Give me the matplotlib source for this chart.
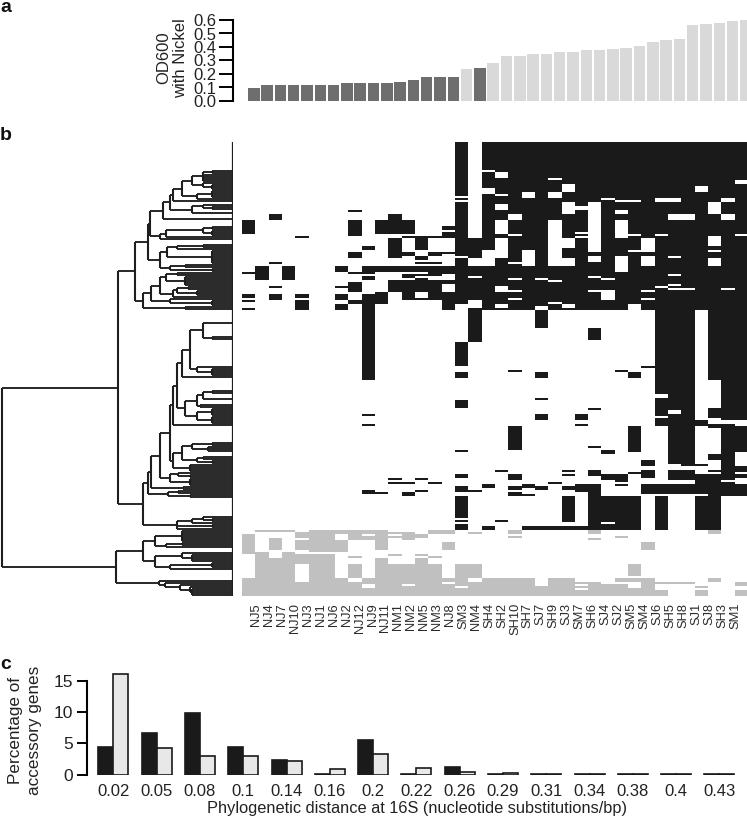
import numpy as np
import matplotlib
matplotlib.use("Agg")
import matplotlib.pyplot as plt
from matplotlib.colors import ListedColormap

plt.rcParams["font.family"] = ["Liberation Sans", "DejaVu Sans"]

W, H = 747, 821
TEXT = "#222222"

# ---------------------------------------------------------------------------
# Panel a: growth with nickel
# ---------------------------------------------------------------------------
OD600 = [0.095, 0.115, 0.12, 0.12, 0.12, 0.12, 0.122, 0.13, 0.13, 0.133, 0.133,
         0.14, 0.155, 0.175, 0.175, 0.18, 0.235, 0.245, 0.28, 0.33, 0.33, 0.345,
         0.35, 0.36, 0.365, 0.375, 0.38, 0.385, 0.395, 0.405, 0.435, 0.455,
         0.46, 0.56, 0.57, 0.58, 0.59, 0.61]
OD_DARK = list(range(16)) + [17]
OD_TICKS = [0.0, 0.1, 0.2, 0.3, 0.4, 0.5, 0.6]

# ---------------------------------------------------------------------------
# Panel b: presence / absence blocks  (col_from, col_to, row_from, row_to)
# ---------------------------------------------------------------------------
STRAINS = ["NJ5", "NJ4", "NJ7", "NJ10", "NJ3", "NJ1", "NJ6", "NJ2", "NJ12", "NJ9",
           "NJ11", "NM1", "NM2", "NM5", "NM3", "NJ8", "SM3", "NM4", "SH4", "SH2",
           "SH10", "SH7", "SJ7", "SH9", "SJ3", "SM7", "SH6", "SJ4", "SJ2", "SM5",
           "SM4", "SJ6", "SH5", "SH8", "SJ1", "SJ8", "SH3", "SM1"]
N_ROWS = 227

BLACK_BLOCKS = [
    (16,17,0,81), (18,38,0,84), (17,18,48,79), (17,18,83,100), (31,34,84,139),
    (32,34,139,161), (31,32,139,142), (34,35,139,142), (35,36,84,119), (36,38,84,139),
    (35,36,133,138), (36,38,142,155), (36,37,155,169), (35,36,156,159), (35,37,141,143),
    (37,38,162,165), (37,38,166,168), (35,36,164,165), (35,36,167,169), (33,35,161,162),
    (32,34,164,169), (34,36,166,175), (35,37,170,177), (30,38,171,176), (37,38,175,177),
    (30,31,159,162), (30,31,164,168), (29,30,165,166), (29,30,142,155), (28,29,114,115),
    (29,30,115,118), (30,31,112,113), (26,27,93,99), (26,27,164,167), (27,29,166,169),
    (28,29,169,170), (28,29,171,172), (25,27,171,175), (26,27,172,194), (27,30,177,194),
    (24,25,172,174), (24,25,164,165), (24,25,166,167), (23,24,170,171), (22,23,172,174),
    (21,22,171,173), (20,21,172,174), (20,21,166,169), (20,21,175,177), (21,22,176,177),
    (19,20,164,165), (18,19,171,173), (17,18,174,175), (16,17,172,175), (16,17,166,168),
    (16,17,154,155), (16,17,100,112), (16,17,115,118), (16,17,129,133), (16,17,177,188),
    (16,17,189,190), (16,17,191,192), (16,17,192,194), (20,21,142,154), (20,21,114,115),
    (22,23,84,93), (22,23,115,118), (22,23,128,129), (22,23,136,139), (25,26,136,139),
    (25,26,141,142), (26,27,133,134), (26,27,152,153), (27,28,154,156), (24,25,177,190),
    (31,32,177,194), (34,36,177,194), (18,19,192,194), (19,20,189,190), (21,26,192,194),
    (9,10,76,119), (9,10,136,137), (9,10,141,142), (9,10,174,176), (10,11,175,176),
    (11,12,168,169), (11,13,170,171), (13,14,168,169), (14,15,170,171), (12,13,175,177),
    (13,14,174,175), (0,1,39,46), (2,3,36,39), (4,5,47,48), (8,9,34,35), (8,9,39,47),
    (9,10,52,54), (8,9,55,58), (10,13,39,46), (11,12,36,46), (15,16,42,44), (15,16,45,47),
    (12,16,47,48), (11,12,48,58), (12,13,55,57), (13,14,48,54), (13,14,57,59), (14,15,55,57),
    (15,16,55,56), (13,15,60,61), (7,8,62,65), (8,9,65,66), (9,16,62,65), (9,10,65,66),
    (9,10,67,69), (0,1,65,66), (1,2,62,69), (2,3,60,61), (3,4,62,69), (2,3,72,73),
    (0,1,76,78), (0,1,79,80), (0,1,83,84), (2,3,76,79), (4,5,76,78), (4,5,79,84),
    (7,8,72,73), (7,8,76,79), (7,8,81,84), (8,9,70,75), (8,9,79,81), (10,11,75,81),
    (11,16,69,79), (15,16,79,84), (14,16,65,67), (12,14,66,69),
]

WHITE_BLOCKS = [
    (16,17,27,28), (16,17,29,30), (16,17,57,58), (18,19,14,15), (19,20,15,18), (23,24,18,19),
    (37,38,19,21), (34,35,22,25), (24,25,21,25), (23,24,25,28), (21,22,25,28), (18,19,23,26),
    (19,20,26,27), (27,28,28,29), (28,30,29,30), (31,33,28,30), (36,37,28,30), (35,36,30,36),
    (36,37,36,39), (32,34,36,39), (19,20,31,34), (24,25,30,36), (25,26,32,34), (26,27,30,55),
    (28,29,34,36), (28,29,39,48), (29,30,46,47), (31,32,46,47), (37,38,46,47), (20,21,36,39),
    (20,21,46,47), (19,20,39,46), (19,20,48,58), (18,19,54,62), (17,18,58,62), (20,21,60,61),
    (21,22,54,62), (23,24,39,62), (24,25,48,53), (24,25,58,62), (25,26,45,46), (25,26,47,48),
    (26,27,57,60), (28,29,57,65), (30,31,48,55), (29,30,54,55), (30,31,57,62), (32,33,57,58),
    (35,36,47,52), (35,36,54,55), (35,36,58,62), (17,18,67,68), (20,21,68,69), (22,23,68,69),
    (23,24,69,70), (26,27,67,68), (27,28,68,69), (32,33,66,67), (32,33,71,72), (31,32,72,73),
    (32,34,73,74), (36,37,73,74), (19,20,72,75), (20,21,74,75), (26,27,74,75), (27,28,74,79),
    (30,31,74,75), (30,31,78,79), (20,21,78,79), (23,24,80,81), (24,25,81,83), (19,20,81,83),
    (17,18,80,83), (22,23,82,84), (29,30,81,84), (32,33,134,136), (31,32,126,128), (31,32,137,138),
    (27,28,190,191), (11,12,75,79), (13,14,75,78), (15,16,66,69), (15,16,71,75), (12,13,68,69),
    (13,14,67,68), (16,17,81,84),
]

GRAY_BLOCKS = [
    (1,4,194,195), (4,5,195,198), (4,5,199,204), (5,7,194,205), (7,8,194,196), (7,8,199,205),
    (8,9,194,199), (9,10,194,196), (9,10,197,199), (10,11,194,204), (11,12,195,196), (11,12,197,198),
    (12,13,195,199), (13,14,196,198), (14,16,194,196), (15,16,200,204), (0,1,196,206), (1,2,205,208),
    (2,3,198,204), (3,4,205,227), (4,5,206,211), (4,5,220,227), (5,7,206,227), (7,8,218,227),
    (8,9,207,208), (8,9,211,218), (8,9,220,227), (9,10,218,221), (9,10,223,227), (10,11,208,227),
    (1,3,208,227), (0,1,218,227), (11,12,206,207), (11,12,211,227), (12,13,211,221), (12,13,222,227),
    (13,14,206,207), (13,14,208,227), (14,15,207,208), (14,15,211,227), (15,16,218,220), (15,16,221,227),
    (16,17,211,222), (16,17,223,227), (17,18,211,218), (17,18,220,227), (18,22,218,227), (22,23,222,227),
    (23,25,218,227), (25,26,220,221), (25,26,222,223), (25,26,224,227), (26,27,220,227), (27,28,221,227),
    (28,29,218,220), (28,29,221,227), (29,30,211,217), (29,30,218,220), (29,30,223,227), (30,31,218,227),
    (31,32,220,221), (31,32,224,227), (32,34,220,221), (34,35,222,223), (34,35,224,227), (35,36,218,220),
    (37,38,220,222), (37,38,224,227), (26,27,194,196), (26,27,198,199), (28,29,197,198), (30,31,200,204),
    (17,18,195,196), (20,21,194,196), (20,21,197,198), (35,36,194,196),
]

# ---------------------------------------------------------------------------
# Dendrogram: node = (height, child, child, ...), int child = n identical leaves
# ---------------------------------------------------------------------------
def comb(h, n):
    return (h,) + (1,) * n

R7 = (30, (21, 15, 1), 1, 1, 1, 1)
R8 = (30, 1, comb(21, 3))
R6 = (36, comb(21, 4), 1)
R2 = (60, (51, (41, R7, R8), R6), 1)
R3 = (41, (30, 2, comb(21, 2)), 2)
CLADE_R = (70, (63, R2, R3), 3)
CLADE_S = (73, (67, (30, (21, 4, 1), comb(21, 3)), 1), 1)
T1 = (66, (56, (30, 3, 1), 1), comb(21, 7))
T2 = (63, (48, 1, 1), comb(21, 2))
CLADE_P = (85, (83, CLADE_R, CLADE_S), (73, T1, T2))
L_TOP = (73, (67, (56, 1, 1), comb(48, 5)), (60, (56, (45, 1, 1), comb(36, 3)), 1))
CLADE_L = (90, (82, L_TOP, (63, 1, comb(21, 3))), (48, 1, 1))
CLADE_U = (98, CLADE_P, CLADE_L)

M1 = (43, (30, 7, (21, 7, 1)), (36, 14, comb(21, 4)))
M2 = (51, M1, 1)
M3 = (36, (30, (21, 7, 1), 3), (33, 3, 1))
M4 = (36, comb(21, 4), comb(21, 4))
M5 = (60, (56, M2, (48, M3, M4)), 1)
M6 = (51, (41, (21, 9, 1), comb(25, 3)), (36, (30, 3, 1), comb(21, 2)))
M7 = (60, M6, comb(43, 4))
M8 = (63, (55, comb(43, 1), comb(43, 2)), comb(43, 4))
M9 = (73, (63, M5, M7), M8)
M10 = (85, (82, M9, comb(50, 2)), (65, (55, 1, 1), comb(43, 2)))
M11 = (56, (41, (30, (21, 10), comb(21, 2)), 1), comb(21, 2), 1)
CLADE_V = (90, M10, M11)

B1 = (78, comb(51, 6), (67, comb(51, 2), 1))
B2 = (78, (51, 3, comb(41, 4)), (63, comb(21, 3), 1))
B3 = (74, 6, (68, 1, (53, 1, (43, 1, comb(41, 4)))))
TREE = (231, (115, CLADE_U, CLADE_V), (117, (90, B1, B2), B3))

# ---------------------------------------------------------------------------
# Panel c: accessory genes vs distance
# ---------------------------------------------------------------------------
DISTANCES = ["0.02", "0.05", "0.08", "0.1", "0.14", "0.16", "0.2", "0.22", "0.26",
             "0.29", "0.31", "0.34", "0.38", "0.4", "0.43"]
GENES_DARK = [4.4, 6.6, 9.8, 4.4, 2.3, 0.1, 5.5, 0.15, 1.2, 0.1, 0.1, 0.1, 0.1, 0.1, 0.1]
GENES_LIGHT = [16, 4.2, 3.0, 3.0, 2.1, 0.8, 3.2, 1.0, 0.4, 0.3, 0.1, 0.1, 0.1, 0.1, 0.1]
GENE_TICKS = [0, 5, 10, 15]


def px_axes(fig, left, top, right, bottom):
    return fig.add_axes([left / W, 1 - bottom / H, (right - left) / W, (bottom - top) / H])


fig = plt.figure(figsize=(W / 100, H / 100), dpi=100)

# ---------------------------------------------------------------------------
# a
# ---------------------------------------------------------------------------
COL_W = 13.3
ax_a = px_axes(fig, 233, 20, 747, 101)
colors = ["#6e6e6e" if i in OD_DARK else "#d9d9d9" for i in range(len(OD600))]
ax_a.bar(range(len(OD600)), OD600, width=0.87, color=colors)
ax_a.set_xlim(-(248 + 5.8 - 233) / COL_W, (747 - 248 - 5.8) / COL_W)
ax_a.set_ylim(0, 0.6)
ax_a.set_xticks([])
ax_a.set_yticks(OD_TICKS)
ax_a.set_yticklabels([f"{v:.1f}" for v in OD_TICKS], fontsize=12, color=TEXT)
ax_a.tick_params(axis="y", length=10, width=1.4, pad=2)
for s in ["top", "right", "bottom"]:
    ax_a.spines[s].set_visible(False)
ax_a.spines["left"].set_linewidth(1.5)
ax_a.patch.set_alpha(0)
fig.text(172 / W, 1 - 58 / H, "OD600\nwith Nickel", rotation=90, fontsize=12, color=TEXT,
         ha="center", va="center", linespacing=1.12)

# ---------------------------------------------------------------------------
# b heatmap
# ---------------------------------------------------------------------------
matrix = np.zeros((N_ROWS, len(STRAINS)), dtype=int)
for c0, c1, r0, r1 in BLACK_BLOCKS:
    matrix[r0:r1, c0:c1] = 1
for c0, c1, r0, r1 in WHITE_BLOCKS:
    matrix[r0:r1, c0:c1] = 0
for c0, c1, r0, r1 in GRAY_BLOCKS:
    matrix[r0:r1, c0:c1] = 2

ax_b = px_axes(fig, 241.7, 142, 747, 596)
ax_b.imshow(matrix, cmap=ListedColormap(["#ffffff", "#1a1a1a", "#c0c0c0"]), vmin=0, vmax=2,
            aspect="auto", interpolation="nearest")
# labels run a little tighter than the columns
ax_b.set_xticks([(256 - 241.7) / COL_W - 0.5 + i * 12.95 / COL_W for i in range(len(STRAINS))])
ax_b.set_xticklabels(STRAINS, rotation=90, fontsize=9.3, color="#2a2a2a")
ax_b.set_yticks([])
ax_b.tick_params(axis="x", length=0, pad=5)
for sp in ax_b.spines.values():
    sp.set_visible(False)

# ---------------------------------------------------------------------------
# b dendrogram
# ---------------------------------------------------------------------------
ax_d = px_axes(fig, 0, 142, 233, 596)
h_segs = []
v_segs = []
next_row = 0


def layout(node):
    global next_row
    if isinstance(node, int):
        y = next_row + node - 0.5
        next_row += node
        return 0, y
    h = node[0]
    kids = [layout(k) for k in node[1:]]
    ys = [k[1] for k in kids]
    for kh, ky in kids:
        h_segs.append((ky, h, kh))
    v_segs.append((h, min(ys), max(ys)))
    return h, (min(ys) + max(ys)) / 2


layout(TREE)
ax_d.hlines([s[0] for s in h_segs], [s[1] for s in h_segs], [s[2] for s in h_segs],
            color="#1e1e1e", lw=1.35)
ax_d.vlines([s[0] for s in v_segs], [s[1] for s in v_segs], [s[2] for s in v_segs],
            color="#1e1e1e", lw=1.5)
ax_d.vlines(0, 0, next_row, color="#1e1e1e", lw=1.6)
ax_d.set_xlim(233, 0)
ax_d.set_ylim(N_ROWS, 0)
ax_d.axis("off")

# ---------------------------------------------------------------------------
# c
# ---------------------------------------------------------------------------
PITCH = 43.3
ax_c = px_axes(fig, 87, 670, 747, 774.5)
x = np.arange(len(DISTANCES))
bw = 15 / PITCH
ax_c.bar(x - bw / 2, GENES_DARK, width=bw, color="#1a1a1a", edgecolor="#1a1a1a", lw=1.2)
ax_c.bar(x + bw / 2, GENES_LIGHT, width=bw, color="#e8e8e8", edgecolor="#1a1a1a", lw=1.2)
ax_c.set_xlim(-(113.3 - 87) / PITCH, (747 - 113.3) / PITCH)
ax_c.set_ylim(0, 104.5 / 94 * 15)
ax_c.set_xticks(x)
ax_c.set_xticklabels(DISTANCES, fontsize=12, color=TEXT)
ax_c.set_yticks(GENE_TICKS)
ax_c.set_yticklabels(GENE_TICKS, fontsize=12.5, color=TEXT)
ax_c.tick_params(axis="x", length=0, pad=7)
ax_c.tick_params(axis="y", length=7, width=1.4, pad=3)
for s in ["top", "right", "bottom"]:
    ax_c.spines[s].set_visible(False)
ax_c.spines["left"].set_bounds(0, 15)
ax_c.spines["left"].set_linewidth(1.5)
ax_c.patch.set_alpha(0)
fig.text(417 / W, 1 - 808 / H, "Phylogenetic distance at 16S (nucleotide substitutions/bp)",
         fontsize=11.8, color=TEXT, ha="center", va="center")
fig.text(25 / W, 1 - 730 / H, "Percentage of\naccessory genes", rotation=90, fontsize=12.3,
         color=TEXT, ha="center", va="center", linespacing=1.25)

# Panel letters
for letter, py in [("a", 7), ("b", 135), ("c", 664)]:
    fig.text(0, 1 - py / H, letter, fontsize=14, fontweight="bold", ha="left", va="center", color="#111111")

fig.savefig("out.png", dpi=100)
